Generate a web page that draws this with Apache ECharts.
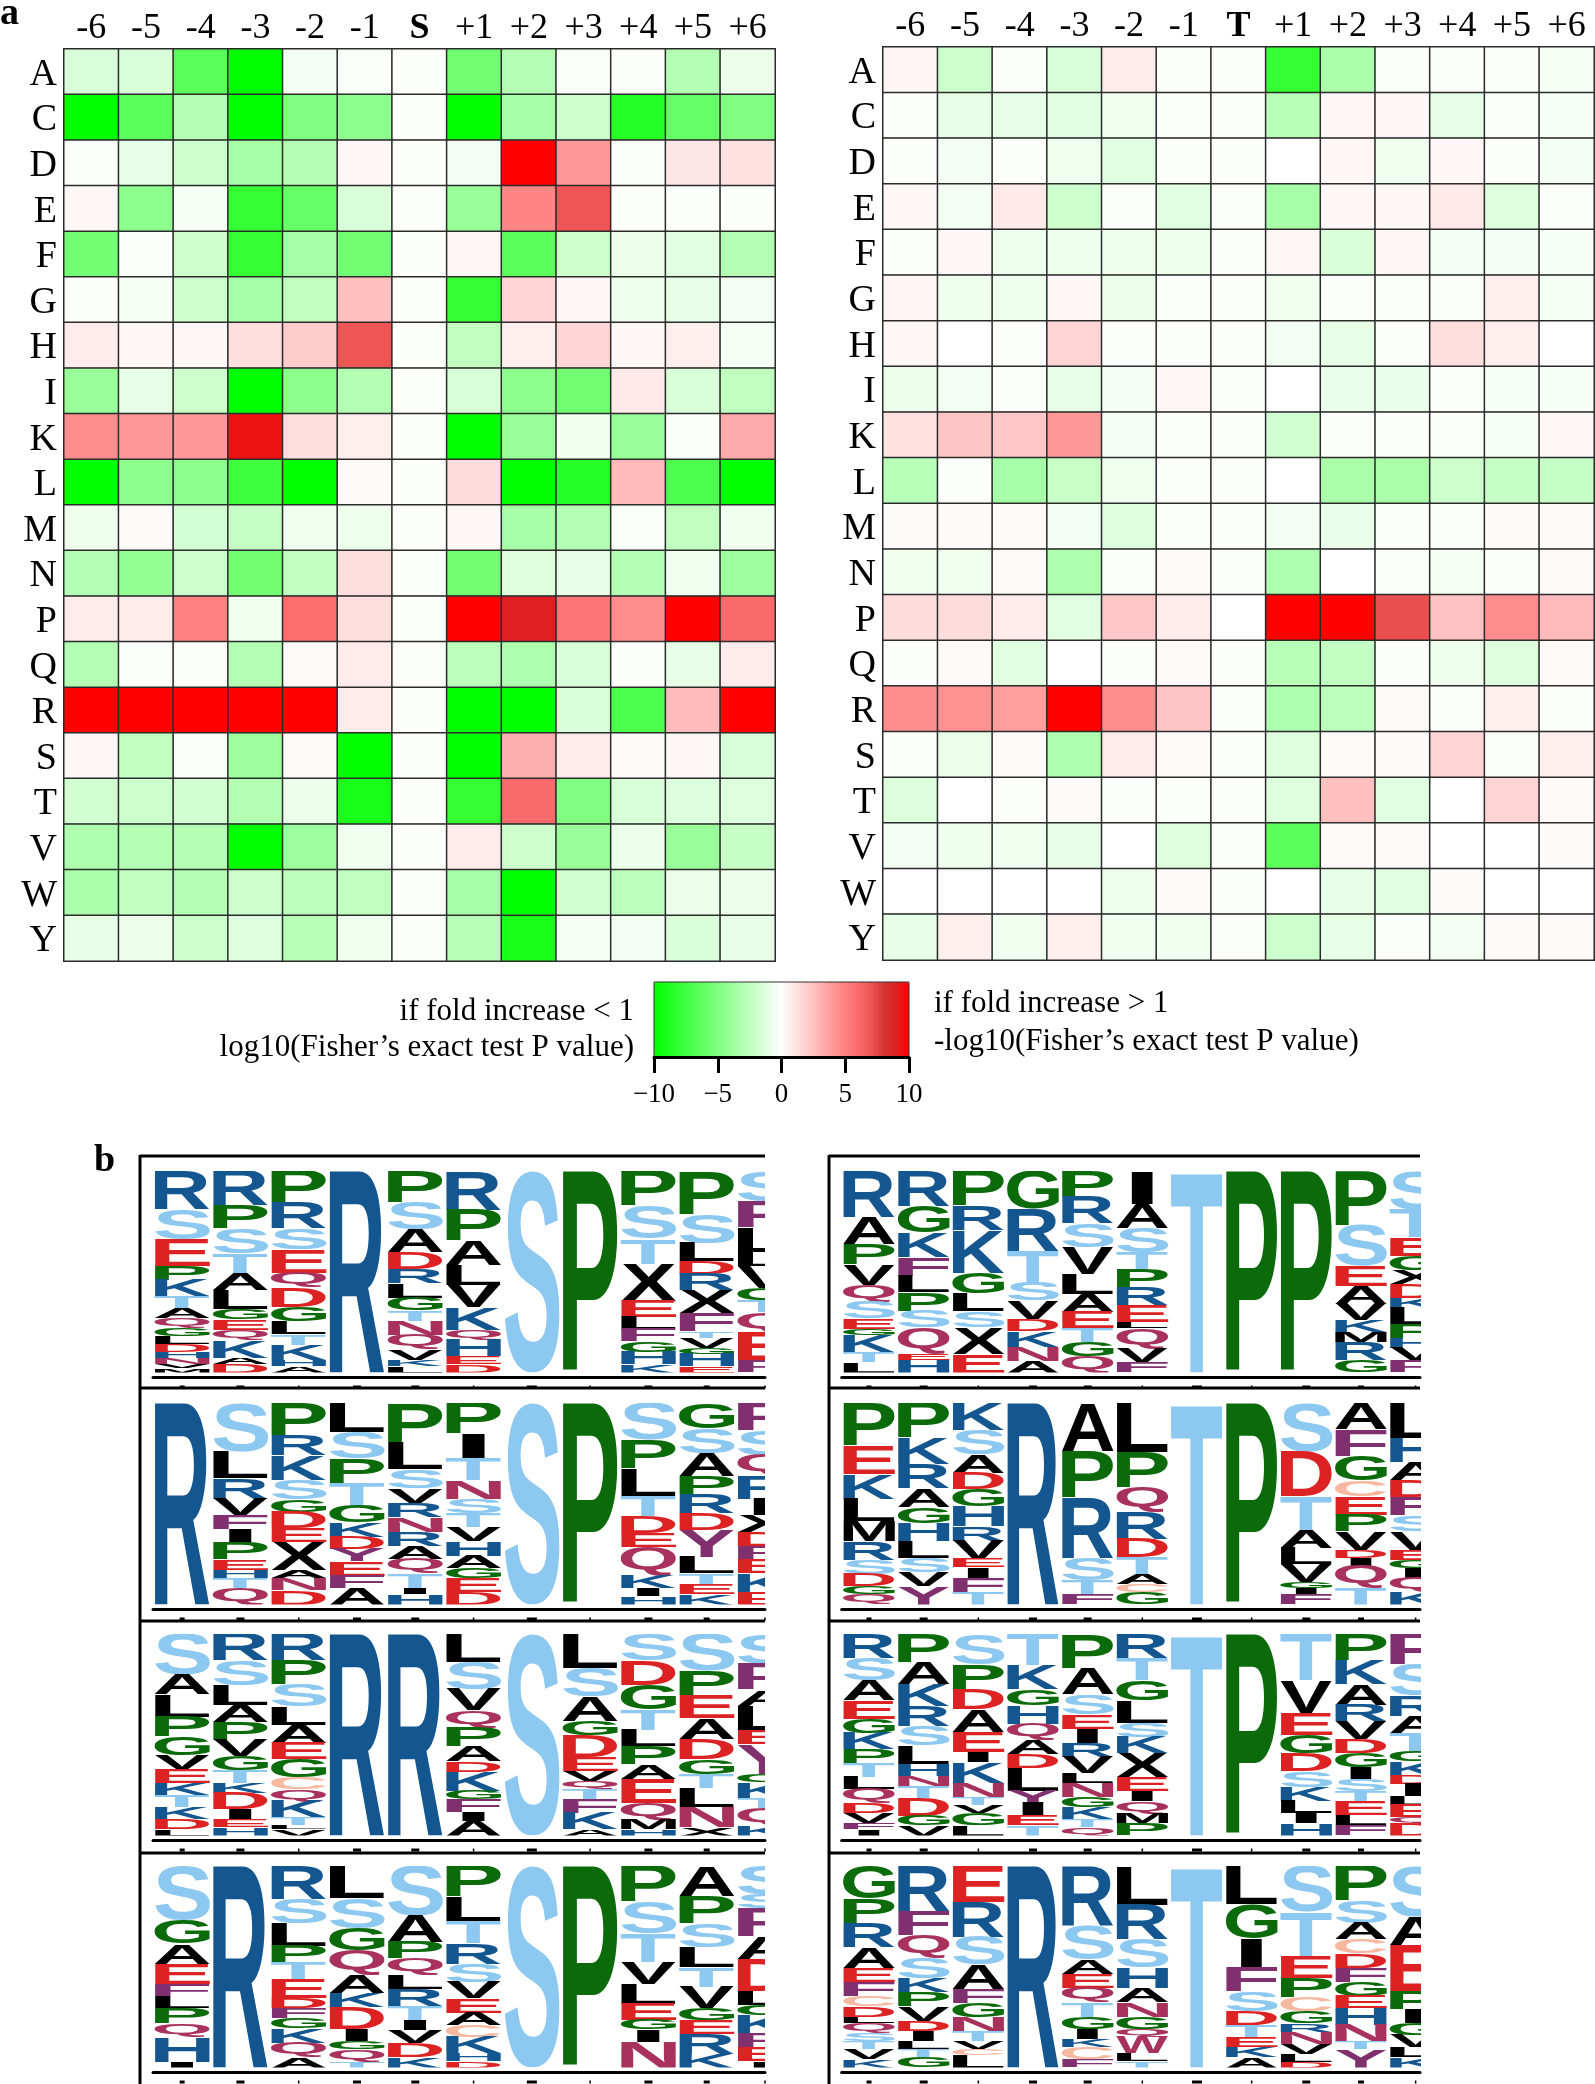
<!DOCTYPE html>
<html>
<head>
<meta charset="utf-8">
<title>Phosphosite motif heatmaps and logos</title>
<script src="https://cdn.jsdelivr.net/npm/echarts@6/dist/echarts.min.js"></script>
<style>
  html, body { margin: 0; padding: 0; background: #fff; }
  #chart { width: 1595px; height: 2084px; }
</style>
</head>
<body>
<div id="chart"></div>
<script>
// ---- heatmap data (rows A..Y, columns -6..+6) ----
var residues = ['A','C','D','E','F','G','H','I','K','L','M','N','P','Q','R','S','T','V','W','Y'];
var positionsS = ['-6','-5','-4','-3','-2','-1','S','+1','+2','+3','+4','+5','+6'];
var positionsT = ['-6','-5','-4','-3','-2','-1','T','+1','+2','+3','+4','+5','+6'];
var barTicks = [-10, -5, 0, 5, 10];

var valuesS = [
  [-1.5,-1.5,-6.5,-10,-0.5,-0.2,-0.1,-5.5,-3,-0.2,-0.1,-3,-0.8],
  [-10,-6.5,-3,-10,-5,-4.5,-0.1,-10,-3.5,-2,-8.5,-6,-5],
  [-0.1,-1,-2,-3.5,-3,0.3,-0.1,-0.5,10,4,-0.1,1,1.2],
  [0.3,-4.5,-0.4,-8,-6,-1.5,-0.1,-4,4.8,7,-0.1,-0.1,-0.1],
  [-5.5,-0.1,-2,-8,-3.5,-5.5,-0.1,0.3,-6.5,-2,-0.8,-1.2,-3],
  [-0.1,-0.4,-2,-3.5,-2.5,2.5,-0.1,-8,1.6,0.3,-0.7,-1,-0.5],
  [0.8,0.3,0.3,1.3,2,7,-0.1,-2.5,0.7,1.6,0.3,0.7,-0.4],
  [-4,-1,-2,-10,-4.5,-3,-0.1,-1.5,-4.5,-5.5,0.9,-1.5,-2.5],
  [4.5,4,4,9.4,1.3,0.7,-0.1,-10,-4,-0.6,-4,-0.1,3.3],
  [-10,-4.5,-4.5,-7.5,-10,0.2,-0.1,1.4,-10,-8.5,2.7,-7,-10],
  [-0.7,0.2,-1.7,-2.3,-0.6,-0.7,-0.1,0.3,-3.5,-3,-0.2,-2.5,-0.6],
  [-3,-4.2,-2,-5.5,-2.5,1.3,-0.1,-5.5,-1.3,-1,-3,-0.6,-3.8],
  [0.8,0.8,5,-0.6,5.8,1.3,-0.1,10,9,5.5,4.5,10,6],
  [-3,-0.1,-0.1,-3,0.2,0.8,-0.1,-2.7,-3.2,-1.5,-0.1,-1,0.8],
  [10,10,10,10,10,0.8,-0.1,-10,-10,-1.5,-7,2.7,10],
  [0.3,-2.4,-0.2,-3.8,0.2,-10,-0.1,-10,3.2,0.8,0.2,0.3,-1.5],
  [-1.8,-2,-1.8,-3,-0.8,-9,-0.1,-8,6,-5,-1.5,-1.4,-1.3],
  [-3.2,-3,-3,-10,-3.8,-0.6,-0.1,0.8,-2,-4,-0.8,-4,-2.3],
  [-3.3,-2.4,-3,-2,-2.6,-2.5,-0.1,-3.5,-10,-1.8,-2.6,-0.8,-0.8],
  [-1,-0.8,-2,-1.3,-2.8,-0.6,-0.1,-2.8,-9,-0.4,-0.5,-1.5,-1]
];
var valuesT = [
  [0.4,-2,-0.1,-1.5,0.8,-0.1,-0.1,-8,-3.3,-0.2,-0.2,-0.2,-0.4],
  [-0.1,-1,-1,-1.2,-0.6,-0.1,-0.1,-2.8,0.3,0.3,-1,-0.1,-0.3],
  [-0.1,-0.5,-0.1,-0.6,-1.2,-0.1,-0.1,-0.05,0.3,-0.6,0.3,-0.1,-0.5],
  [0.3,-0.5,0.9,-2,-0.1,-1.2,-0.1,-3.5,0.3,0.3,0.9,-1.3,-0.1],
  [-0.1,0.3,-0.7,-0.7,-0.7,-0.7,-0.1,0.3,-1.5,0.3,-0.5,-0.5,-0.3],
  [0.4,-0.7,-0.7,0.3,-0.8,-0.1,-0.1,-0.6,-0.1,-0.1,-0.1,0.7,-0.4],
  [0.3,-0.05,-0.1,1.7,-0.1,-0.1,-0.1,-0.5,-1,-0.1,1.3,0.7,-0.05],
  [-0.8,-0.5,-0.1,-1,-0.5,0.3,-0.1,-0.05,-0.9,-0.9,-0.1,-0.3,-0.3],
  [1.2,2.3,2.2,4,-0.5,-0.1,-0.1,-1.8,-0.1,-0.1,-0.1,-0.3,0.3],
  [-2.8,-0.1,-3.5,-2.2,-0.6,-0.1,-0.1,-0.05,-3.3,-3.3,-2,-2.3,-2.3],
  [0.2,0.2,0.2,-0.5,-1.3,-0.1,-0.1,-0.5,-0.9,-0.1,-0.1,0.2,0.2],
  [-0.6,-0.6,0.2,-3.2,-0.1,0.2,-0.1,-3.2,-0.05,-0.1,-0.4,-0.1,0.2],
  [1.4,1.4,0.8,-1.2,2.2,0.8,-0.05,10,10,7.2,2.4,4.5,2.7],
  [-0.1,0.2,-1.2,-0.05,-0.1,0.2,-0.1,-2.8,-2.4,-0.1,-0.7,-1.3,0.2],
  [4.5,4.3,3.8,10,4.5,2.3,-0.1,-3.2,-2.6,0.2,-0.1,0.7,-0.1],
  [-0.1,-0.8,0.2,-3.2,0.8,0.2,-0.1,-1.3,0.2,0.2,1.7,-0.1,0.7],
  [-1.4,-0.05,-0.1,0.2,-0.1,-0.1,-0.1,-1.3,2.5,-1.2,-0.05,1.7,0.2],
  [-0.5,-0.7,-0.6,-1,-0.05,-1.3,-0.1,-6.5,0.2,0.2,-0.05,-0.05,0.2],
  [-0.05,-0.05,-0.05,-0.05,-0.7,0.2,-0.1,-0.05,-1,-1.2,0.2,-0.05,-0.05],
  [-1,0.7,-0.6,0.7,-0.6,-0.6,-0.1,-2,-1,-0.1,-0.5,0.2,0.2]
];

// ---- logo data: one string per position, top to bottom, letter + stack share ----
var logoS1 = [
  'R19 S15 E13 P7 K8 T6 A5 Q5 G4 L4 D4 H3 N3 V2 M2',
  'R16 P11 S12 T9 A8 L9 G5 E5 Q5 K8 A3 D4',
  'P15 R12 S10 E11 Q7 D9 G7 L6 T5 K7 H3 A3',
  'R100',
  'P15 S13 A11 D8 R7 L7 G6 T5 N7 Q7 V5 K3 L3',
  'R19 P15 A12 L10 V11 K11 Q5 H8 E4 D4',
  'S100',
  'P100',
  'P17 S16 T12 X18 E8 L6 F6 G5 H6 K4',
  'P21 S14 L9 D6 R8 X11 F9 T3 V5 G3 H6 E3',
  'S15 F13 L12 L7 V11 G6 T6 Q10 E14 F6'
];
var logoS2 = [
  'R100',
  'S24 L13 R10 V8 F7 I7 P8 E5 H4 T5 Q8',
  'P16 R10 K12 S10 G6 D8 E7 X14 A4 N6 D7',
  'L14 S13 P12 T11 G8 K7 D6 Y6 E7 F6 A8',
  'P19 L13 S9 V7 R7 N7 R7 A6 Q7 T7 I3 H5',
  'P15 I12 T11 N9 S7 T7 V7 H7 A6 G5 E7 D6',
  'S100',
  'P100',
  'S18 P14 L13 T10 D8 E7 Q14 K6 I4 H4',
  'G12 S12 A11 P9 R9 D8 Y13 L8 T5 E5 K5',
  'F13 S12 Q10 R11 I8 X8 D7 F6 E7 K9 E6'
];
var logoS3 = [
  'S20 A10 L11 P10 G9 V7 E7 K6 T6 K6 D5 L3',
  'R13 S12 L10 A8 P9 V8 G7 T6 K5 D8 I5 E4 H4',
  'R13 P12 S11 L9 A9 E8 G9 C6 Q6 K8 T4 L2 V3',
  'R100',
  'R100',
  'L13 S13 V10 Q8 P9 A7 D5 K9 G4 F6 I4 A7',
  'S100',
  'L17 S14 A12 G7 D11 E7 V5 Q4 T5 F7 K8 A3',
  'S13 D12 G12 T10 L8 P9 A7 E12 Q8 M5 H3',
  'S18 P12 E11 A10 D10 G7 T7 L9 N10 X4',
  'S15 F13 A8 L12 E7 Y15 G4 K8 T5 Q9 K5'
];
var logoS4 = [
  'S27 G12 A10 E10 F6 L6 P8 Q7 H12 I3',
  'R100',
  'R16 S12 L11 P8 T8 E9 D5 F5 G5 K7 Q7 A5',
  'L16 S15 G11 Q12 A9 K7 D11 I6 G4 Q6 T3',
  'S24 A13 P8 Q8 L7 R8 T7 I5 V6 D7 K5',
  'P15 L12 T11 R10 S9 V8 E7 A6 C6 K8 H4 D3',
  'S100',
  'P100',
  'P18 S16 T14 V11 L10 E8 G5 I6 N13',
  'A15 P14 S12 L10 T10 V11 G6 E7 R10 K7',
  'S14 S7 F14 A11 D16 L7 G5 K9 F7 E7 I3'
];
var logoT1 = [
  'R22 A13 P10 V10 Q8 S8 E5 G3 K8 T5 L5',
  'R17 G13 K12 F9 L8 P9 S8 Q13 E3 H6',
  'P17 R12 K21 G10 L9 S8 X13 E9',
  'G19 R21 T16 S9 V9 D6 K8 N7 A6',
  'P13 R13 S12 V13 L10 A9 E8 T7 G7 Q8',
  'I16 A12 S12 T8 P9 R9 E8 L3 Q10 V7 F5',
  'T100',
  'P100',
  'P100',
  'P27 S20 E10 A9 V8 K6 M5 R9 G6',
  'S19 T14 E9 G7 X7 D7 K5 L8 P7 H5 V6 F6'
];
var logoT2 = [
  'P21 E14 K12 L11 M10 R9 S7 D6 G4 Q5',
  'P17 K13 R12 A9 G8 H9 L8 S7 V7 Y9',
  'K13 S12 A9 D8 G8 H10 R7 V9 E4 I5 F7 T6',
  'R100',
  'A24 P23 R30 S11 T7 F5',
  'L24 P17 Q12 R13 D9 T8 A5 C4 G6',
  'T100',
  'P100',
  'S24 D22 T17 A9 L8 V9 G3 I3 F5',
  'A13 F13 G12 C8 E9 P8 V9 D4 I4 Q11 T8',
  'L17 H12 A9 D8 F9 S8 V9 E5 G4 I5 Q7 K6'
];
var logoT3 = [
  'R12 S11 A10 E9 G7 K8 P7 T7 L6 Q7 D5 V5 F3 I3',
  'P14 A11 K11 R10 S10 L9 H6 N5 T6 D9 G5 V5',
  'S15 P12 D10 A11 E10 I5 K10 N7 T4 V4 G6 L5',
  'T15 K12 G8 H9 Q8 A7 D7 L11 Y6 I6 E5 T5',
  'P17 A13 S10 E7 I7 R7 V8 L5 N7 G5 K6 T4 Q4',
  'R12 T11 G10 L11 S7 K8 X12 E7 I5 Q6 M5 P6',
  'T100',
  'P100',
  'T23 V16 E11 G9 D9 S8 K7 L6 I5 H6',
  'P13 K12 A10 R8 V9 D7 G7 I6 S6 T5 E7 L5 F5',
  'F15 S15 R10 A8 T9 G5 K7 D4 I6 L4 E6 Q3 D6'
];
var logoT4 = [
  'G16 P12 R12 A10 E7 F7 C5 D5 L3 Q5 S4 T4 V5 K4',
  'R22 F12 Q11 S10 K7 P7 V7 D5 I5 L4 T4 G5',
  'E18 R17 S14 A12 F7 G7 N7 T5 V4 C3 L6',
  'R100',
  'R29 S17 A7 E7 Q7 T7 G6 I5 K4 C6 F4',
  'L19 R17 S14 H10 A7 N7 G6 Q4 W8 L4 T3',
  'T100',
  'L19 G17 I14 F12 S10 D7 T6 E5 K5 A5',
  'S23 T22 E11 P10 C7 G6 R4 N6 V5 L4 D3',
  'P17 S11 A8 C7 D7 F7 G7 E6 H8 N8 T4 Y9',
  'S25 A14 E23 P9 I7 G6 V6 L5 K5'
];
var stubWidths = [5, 8, 1.5, 8, 8, 1.5, 10, 1.5, 8, 6, 1.5];

var colorStops = ['#00ff00','#19ff19','#33ff33','#4dff4d','#66ff66','#80ff80','#99ff99','#b3ffb3','#ccffcc','#e6ffe6','#ffffff',
                  '#ffe6e6','#ffcccc','#ffb3b3','#ff9999','#ff8080','#fb6a6a','#ef5555','#d63636','#e02020','#ff0000'];
var letterColors = {
  R:'#14568f', K:'#14568f', H:'#14568f',
  S:'#8cc8f0', T:'#8cc8f0',
  P:'#0b6b0b', G:'#0b6b0b',
  E:'#dc2222', D:'#dc2222',
  Q:'#a8325c', N:'#a8325c', W:'#a8325c',
  F:'#80306e', Y:'#80306e',
  C:'#f6b8a0',
  A:'#000', L:'#000', V:'#000', I:'#000', M:'#000', X:'#000'
};

var serif = '"Liberation Serif", "Times New Roman", serif';
var logoFont = 'bold 100px "Liberation Sans", Arial, sans-serif';

// glyph ink box, so that every letter can be stretched to fill its slot
var measureCtx = document.createElement('canvas').getContext('2d');
measureCtx.font = logoFont;
measureCtx.textBaseline = 'middle';
var glyphCache = {};
function glyphBox(ch) {
  if (!glyphCache[ch]) {
    var m = measureCtx.measureText(ch);
    glyphCache[ch] = {
      left: m.actualBoundingBoxLeft, right: m.actualBoundingBoxRight,
      asc: m.actualBoundingBoxAscent, desc: m.actualBoundingBoxDescent
    };
  }
  return glyphCache[ch];
}

// "R19 S15 ..." -> [col, top, bottom, letter] rows, stacked down from 1 to 0
function stackColumns(columns) {
  var rows = [];
  columns.forEach(function (col, c) {
    var parts = col.split(' ');
    var total = parts.reduce(function (s, p) { return s + (+p.slice(1)); }, 0);
    var top = 1;
    parts.forEach(function (p) {
      var share = +p.slice(1) / total;
      rows.push([c, top, top - share, p[0]]);
      top -= share;
    });
  });
  return rows;
}

function renderLetter(params, api) {
  var c = api.value(0), ch = api.value(3);
  // I keeps a narrow stem, the other letters take the whole column
  var half = ch === 'I' ? 0.21 : 0.475;
  var a = api.coord([c - half, api.value(1)]);
  var b = api.coord([c + half, api.value(2)]);
  var g = glyphBox(ch);
  var sx = (b[0] - a[0]) / (g.left + g.right);
  var sy = (b[1] - a[1]) / (g.asc + g.desc);
  return {
    type: 'text',
    x: a[0] + g.left * sx,
    y: a[1] + g.asc * sy,
    scaleX: sx,
    scaleY: sy,
    style: { text: ch, font: logoFont, fill: letterColors[ch], align: 'left', verticalAlign: 'middle' }
  };
}

function renderStub(params, api) {
  var p = api.coord([api.value(0), 0]);
  var w = api.value(1);
  return {
    type: 'rect',
    shape: { x: p[0] - w / 2, y: p[1] + 13, width: w, height: 3 },
    style: { fill: '#000' }
  };
}

var grids = [], xAxes = [], yAxes = [], series = [];

function addHeatmap(left, top, width, height, positions, values) {
  var i = grids.length;
  grids.push({ left: left, top: top, width: width, height: height });
  xAxes.push({
    gridIndex: i, type: 'category', position: 'top', data: positions,
    axisLine: { show: false }, axisTick: { show: false }, splitLine: { show: false },
    axisLabel: {
      interval: 0, margin: 2, fontFamily: serif, fontSize: 36, color: '#000',
      formatter: function (v) { return (v === 'S' || v === 'T') ? '{site|' + v + '}' : v; },
      rich: { site: { fontFamily: serif, fontSize: 36, fontWeight: 'bold', color: '#000' } }
    }
  });
  yAxes.push({
    gridIndex: i, type: 'category', inverse: true, data: residues,
    axisLine: { show: false }, axisTick: { show: false }, splitLine: { show: false },
    axisLabel: {
      interval: 0, margin: 7,
      formatter: function (v) { return '{row|' + v + '}'; },
      rich: { row: { fontFamily: serif, fontSize: 38, color: '#000', padding: [6, 0, 0, 0] } }
    }
  });
  var cells = [];
  values.forEach(function (row, r) {
    row.forEach(function (v, c) { cells.push([c, r, v]); });
  });
  series.push({
    type: 'heatmap', xAxisIndex: i, yAxisIndex: i, data: cells, silent: true,
    itemStyle: { borderColor: '#2b2b2b', borderWidth: 1.5 },
    emphasis: { disabled: true }
  });
}

function addLogo(left, top, width, height, maxX, columns) {
  var i = grids.length;
  grids.push({ left: left, top: top, width: width, height: height });
  xAxes.push({
    gridIndex: i, type: 'value', min: -0.5, max: maxX, offset: 5,
    axisLine: { show: true, onZero: false, lineStyle: { color: '#000', width: 3 } },
    axisTick: { show: false }, axisLabel: { show: false }, splitLine: { show: false }
  });
  yAxes.push({ gridIndex: i, type: 'value', min: 0, max: 1, show: false });
  series.push({
    type: 'custom', xAxisIndex: i, yAxisIndex: i, clip: true, silent: true,
    encode: { x: 0, y: 1 },
    data: stackColumns(columns), renderItem: renderLetter
  });
  series.push({
    type: 'custom', xAxisIndex: i, yAxisIndex: i, clip: false, silent: true,
    encode: { x: 0, y: 2 },
    data: stubWidths.map(function (w, c) { return [c, w, 0]; }), renderItem: renderStub
  });
}

addHeatmap(64, 49, 711, 912, positionsS, valuesS);
addHeatmap(883, 47, 711, 913, positionsT, valuesT);

var logoTops = [1171, 1403, 1634, 1866];
[logoS1, logoS2, logoS3, logoS4].forEach(function (cols, k) {
  addLogo(153, logoTops[k], 612, 201.5, 10, cols);
});
[logoT1, logoT2, logoT3, logoT4].forEach(function (cols, k) {
  addLogo(841.7, logoTops[k], 578.3, 201.5, 10.08, cols);
});

// colour bar axis
var barIdx = grids.length;
grids.push({ left: 654, top: 982, width: 255, height: 75, show: true, borderColor: '#333', borderWidth: 1, backgroundColor: 'transparent', z: 8 });
xAxes.push({
  gridIndex: barIdx, type: 'value', min: barTicks[0], max: barTicks[4], interval: 5, z: 10,
  axisLine: { onZero: false, lineStyle: { color: '#000', width: 3 } },
  axisTick: { length: 16, lineStyle: { color: '#000', width: 3 } },
  splitLine: { show: false },
  axisLabel: {
    margin: 24, fontFamily: serif, fontSize: 27, color: '#000',
    formatter: function (v) { return String(v).replace('-', '\u2212'); }
  }
});
yAxes.push({ gridIndex: barIdx, type: 'value', min: 0, max: 1, show: false });

function label(x, y, text, align, size, weight) {
  return {
    type: 'text', x: x, y: y, silent: true,
    style: {
      text: text, fill: '#000', align: align, verticalAlign: 'middle',
      font: (weight || 'normal') + ' ' + size + 'px ' + serif
    }
  };
}
function hLine(x1, x2, y) {
  return { type: 'line', silent: true, shape: { x1: x1, y1: y, x2: x2, y2: y }, style: { stroke: '#000', lineWidth: 3 } };
}
function vLine(x, y1, y2) {
  return { type: 'line', silent: true, shape: { x1: x, y1: y1, x2: x, y2: y2 }, style: { stroke: '#000', lineWidth: 3 } };
}

var panelLines = [
  vLine(140, 1155, 2084), vLine(829, 1155, 2084)
];
[1156, 1388, 1621, 1853].forEach(function (y) {
  panelLines.push(hLine(140, 765, y));
  panelLines.push(hLine(829, 1420, y));
});

var chart = echarts.init(document.getElementById('chart'), null, { renderer: 'canvas' });
chart.setOption({
  animation: false,
  backgroundColor: '#fff',
  tooltip: { show: false },
  grid: grids,
  xAxis: xAxes,
  yAxis: yAxes,
  visualMap: {
    type: 'continuous', min: -10, max: 10, seriesIndex: [0, 1], orient: 'horizontal',
    left: 654, top: 982, itemWidth: 75, itemHeight: 255, padding: 0,
    calculable: false, realtime: false, text: null, showLabel: false,
    hoverLink: false, inRange: { color: colorStops }
  },
  series: series,
  graphic: panelLines.concat([
    label(0, 14, 'a', 'left', 38, 'bold'),
    label(94, 1161, 'b', 'left', 38, 'bold'),
    label(634, 1012, 'if fold increase < 1', 'right', 31),
    label(634, 1048, 'log10(Fisher\u2019s exact test P value)', 'right', 31),
    label(934, 1004, 'if fold increase > 1', 'left', 31),
    label(934, 1042, '-log10(Fisher\u2019s exact test P value)', 'left', 31)
  ])
});
</script>
</body>
</html>
